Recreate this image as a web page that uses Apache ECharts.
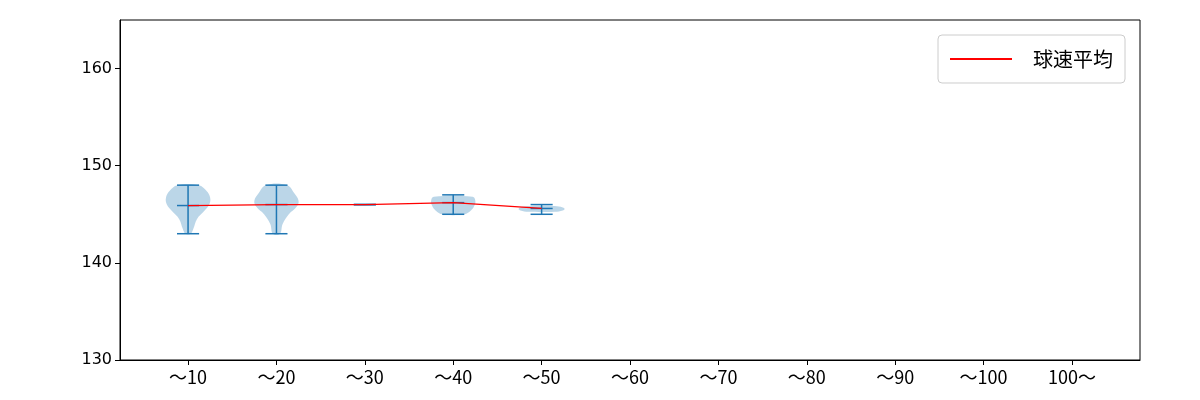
<!DOCTYPE html>
<html><head><meta charset="utf-8">
<script src="https://cdn.jsdelivr.net/npm/echarts@6/dist/echarts.min.js"></script>
<style>body{margin:0}#c{width:1200px;height:400px}</style></head>
<body><div id="c"></div>
<script>
const categories = ['～10','～20','～30','～40','～50','～60','～70','～80','～90','～100','100～'];
const positions = [1, 2, 3, 4, 5];
const means = [145.9, 146.0, 146.0, 146.2, 145.6];
const mins = [143, 143, 146, 145, 145];
const maxs = [148, 148, 146, 147, 146];
// violin outlines: [speed, half width in category units]
const profiles = [
  [[143,0.03],[143.5,0.06],[144.5,0.1],[145.3,0.18],[146,0.24],[146.7,0.25],[147.4,0.21],[148,0.12]],
  [[143,0.04],[144,0.07],[145,0.14],[145.8,0.23],[146.4,0.25],[147.2,0.2],[148,0.12]],
  [],
  [[145.0,0.12],[145.4,0.2],[145.9,0.24],[146.4,0.25],[146.8,0.22]],
  [[145.25,0.15],[145.4,0.24],[145.55,0.26],[145.7,0.24],[145.85,0.15]]
];

const chart = echarts.init(document.getElementById('c'));
const blue = '#1f77b4';
chart.setOption({
  animation: false,
  grid: {left: 120, right: 60, top: 20, bottom: 40, show: true, borderColor: '#000', borderWidth: 1},
  legend: {
    right: 75, top: 35, itemWidth: 62, itemHeight: 2,
    backgroundColor: '#fff', borderColor: '#ccc', borderWidth: 1, borderRadius: 4, padding: [14, 12],
    textStyle: {fontSize: 20, fontFamily: 'Noto Sans CJK JP', color: '#000', padding: [0, 0, 0, 16]},
    data: [{name: '球速平均', icon: 'rect'}]
  },
  xAxis: {
    type: 'value', min: 0.23, max: 11.77,
    splitLine: {show: false},
    axisLine: {lineStyle: {color: '#000'}},
    axisTick: {show: true, customValues: categories.map((c, i) => i + 1), lineStyle: {color: '#000'}},
    axisLabel: {customValues: categories.map((c, i) => i + 1), formatter: v => categories[Math.round(v) - 1],
      fontSize: 18, color: '#000', fontFamily: 'Noto Sans CJK JP'}
  },
  yAxis: {
    type: 'value', min: 130, max: 165,
    splitLine: {show: false},
    axisLine: {show: true, lineStyle: {color: '#000'}},
    axisTick: {show: true, customValues: [130, 140, 150, 160], lineStyle: {color: '#000'}},
    axisLabel: {fontSize: 16, color: '#000', fontFamily: 'DejaVu Sans', customValues: [130, 140, 150, 160]}
  },
  series: [
    {
      type: 'custom', silent: true,
      data: positions.map((p, i) => [p, i]),
      renderItem: (params, api) => {
        const i = api.value(1), p = api.value(0);
        const prof = profiles[i];
        const children = [];
        if (prof.length) {
          const pts = prof.map(d => api.coord([p + d[1], d[0]]))
            .concat(prof.slice().reverse().map(d => api.coord([p - d[1], d[0]])));
          children.push({type: 'polygon', shape: {points: pts, smooth: 0.4},
            style: {fill: blue, opacity: 0.3}});
        }
        const line = (x1, y1, x2, y2) => {
          const a = api.coord([x1, y1]), b = api.coord([x2, y2]);
          children.push({type: 'line', shape: {x1: a[0], y1: a[1], x2: b[0], y2: b[1]},
            style: {stroke: blue, lineWidth: 1.5}});
        };
        const w = 0.125;
        line(p, mins[i], p, maxs[i]);
        line(p - w, mins[i], p + w, mins[i]);
        line(p - w, maxs[i], p + w, maxs[i]);
        line(p - w, means[i], p + w, means[i]);
        return {type: 'group', children};
      }
    },
    {
      name: '球速平均', type: 'line', showSymbol: false,
      data: positions.map((p, i) => [p, means[i]]),
      lineStyle: {color: 'red', width: 1.2}, itemStyle: {color: 'red'}, z: 5
    }
  ]
});
</script></body></html>
